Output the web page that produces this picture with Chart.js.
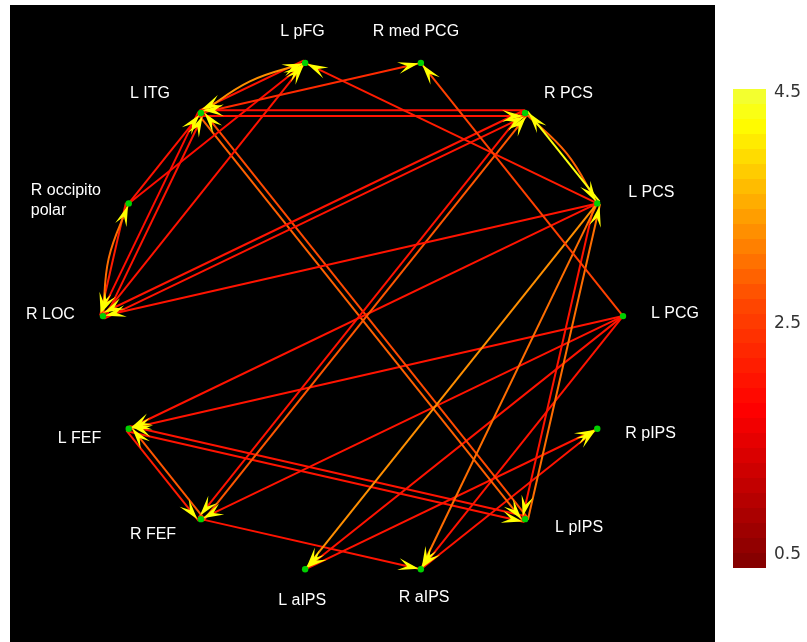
<!DOCTYPE html>
<html>
<head>
<meta charset="utf-8">
<script src="https://cdn.jsdelivr.net/npm/chart.js@4.4.1/dist/chart.umd.min.js"></script>
<style>
  html, body { margin: 0; padding: 0; background: #fff; width: 807px; height: 642px; overflow: hidden; }
  #net { position: absolute; left: 10px; top: 5px; width: 705px; height: 637px; background: #000; }
  #bar { position: absolute; left: 725px; top: 79px; width: 82px; height: 500px; }
</style>
</head>
<body>
<div id="net"><canvas id="netCanvas"></canvas></div>
<div id="bar"><canvas id="barCanvas"></canvas></div>
<script>
// Regions, placed clockwise round the circle starting at the right-hand side
const regions = ['L PCG', 'R pIPS', 'L pIPS', 'R aIPS', 'L aIPS', 'R FEF', 'L FEF',
                 'R LOC', 'R occipito polar', 'L ITG', 'L pFG', 'R med PCG', 'R PCS', 'L PCS'];

// Directed connections: source -> target with connection strength
const edgeFrom = [
  'L ITG', 'L pFG', 'L ITG', 'L PCG', 'L PCS', 'R LOC', 'R occipito polar',
  'L ITG', 'R PCS', 'R LOC', 'L ITG', 'R occipito polar', 'R LOC', 'R occipito polar',
  'R LOC', 'R PCS', 'L PCS', 'L PCS', 'R PCS', 'R PCS', 'R FEF',
  'L PCS', 'L PCS', 'L PCS', 'L PCS', 'L pIPS', 'L ITG', 'L pIPS',
  'L FEF', 'R FEF', 'L FEF', 'L pIPS', 'L PCG', 'L PCG', 'L PCG',
  'L PCG', 'R FEF', 'L aIPS', 'R aIPS'
];
const edgeTo = [
  'L pFG', 'L ITG', 'R med PCG', 'R med PCG', 'L pFG', 'L pFG', 'L pFG',
  'R PCS', 'L ITG', 'L ITG', 'R LOC', 'L ITG', 'R occipito polar', 'R LOC',
  'R PCS', 'R LOC', 'R LOC', 'R PCS', 'L PCS', 'R FEF', 'R PCS',
  'L FEF', 'L aIPS', 'R aIPS', 'L pIPS', 'L PCS', 'L pIPS', 'L ITG',
  'R FEF', 'L FEF', 'L pIPS', 'L FEF', 'L FEF', 'R FEF', 'L aIPS',
  'R aIPS', 'R aIPS', 'R pIPS', 'R pIPS'
];
const edgeWeight = [
  3.3, 2.0, 2.3, 2.6, 2.1, 2.0, 1.9,
  2.0, 1.9, 2.0, 1.9, 2.0, 3.0, 2.1,
  2.0, 2.0, 2.0, 4.3, 2.9, 2.0, 2.8,
  2.0, 3.3, 3.0, 2.0, 3.0, 2.9, 2.7,
  2.1, 2.8, 2.0, 2.0, 2.0, 2.0, 2.0,
  2.0, 2.0, 2.0, 2.0
];

// Colour scale
const colorRange = [0.38, 4.53];
const colorbarTicks = [0.5, 2.5, 4.5];

// ---- drawing style ----
const curvedEdges = new Set(['L ITG>L pFG', 'R LOC>R occipito polar', 'R PCS>L PCS']);
const labelAt = {            // text left edge / vertical middle, px from the node
  'L PCG': [28, -3], 'R pIPS': [28, 5], 'L pIPS': [30, 8], 'R aIPS': [-22, 28],
  'L aIPS': [-27, 31], 'R FEF': [-71, 15], 'L FEF': [-71, 10], 'R LOC': [-77, -2],
  'R occipito polar': [-98, -13], 'L ITG': [-71, -19], 'L pFG': [-25, -31],
  'R med PCG': [-48, -31], 'R PCS': [19, -19], 'L PCS': [31, -11]
};
const labelLines = { 'R occipito polar': ['R occipito', 'polar'] };

const colorStops = [
  [0.00, [128, 0, 0]], [0.33, [255, 0, 0]], [0.55, [255, 70, 0]],
  [0.75, [255, 165, 0]], [0.93, [255, 255, 0]], [1.00, [240, 255, 60]]
];
function colorFor(v) {
  let f = (v - colorRange[0]) / (colorRange[1] - colorRange[0]);
  f = Math.max(0, Math.min(1, f));
  for (let i = 1; i < colorStops.length; i++) {
    const [f1, c1] = colorStops[i];
    const [f0, c0] = colorStops[i - 1];
    if (f <= f1) {
      const t = (f - f0) / (f1 - f0);
      const c = c0.map((a, k) => Math.round(a + (c1[k] - a) * t));
      return `rgb(${c[0]},${c[1]},${c[2]})`;
    }
  }
  return 'rgb(240,255,60)';
}

// node positions on the unit circle (y axis points up)
const step = 2 * Math.PI / regions.length;
const nodePos = {};
regions.forEach((r, i) => { nodePos[r] = { x: Math.cos(i * step), y: -Math.sin(i * step) }; });

const pairKeys = new Set(edgeFrom.map((s, i) => s + '>' + edgeTo[i]));
const edgeDatasets = edgeFrom.map((src, i) => {
  const tgt = edgeTo[i];
  const a = nodePos[src], b = nodePos[tgt];
  const key = src + '>' + tgt;
  let pts;
  if (curvedEdges.has(key)) {
    const mx = (a.x + b.x) / 2, my = (a.y + b.y) / 2;
    const m = Math.hypot(mx, my);
    const bulge = 0.028;
    pts = [{ x: a.x, y: a.y }, { x: mx + mx / m * bulge, y: my + my / m * bulge }, { x: b.x, y: b.y }];
  } else {
    let ox = 0, oy = 0;
    if (pairKeys.has(tgt + '>' + src)) {
      const dx = b.x - a.x, dy = b.y - a.y, d = Math.hypot(dx, dy);
      ox = dy / d * 0.011; oy = -dx / d * 0.011;
    }
    pts = [{ x: a.x + ox, y: a.y + oy }, { x: b.x + ox, y: b.y + oy }];
  }
  return {
    data: pts, showLine: true, pointRadius: 0, pointHoverRadius: 0,
    borderColor: colorFor(edgeWeight[i]), borderWidth: 2,
    tension: curvedEdges.has(key) ? 0.4 : 0, order: 1
  };
});

const nodeDataset = {
  data: regions.map(r => nodePos[r]), pointRadius: 3.2, pointBackgroundColor: '#00d000',
  pointBorderWidth: 0, showLine: false, order: 0
};

function drawArrow(ctx, tx, ty, ux, uy) {
  const L = 21, W = 6, N = 12, gap = 2;
  const x0 = tx - ux * gap, y0 = ty - uy * gap;
  const bx = x0 - ux * L, by = y0 - uy * L;
  const px = -uy, py = ux;
  ctx.beginPath();
  ctx.moveTo(x0, y0);
  ctx.lineTo(bx + px * W, by + py * W);
  ctx.lineTo(x0 - ux * N, y0 - uy * N);
  ctx.lineTo(bx - px * W, by - py * W);
  ctx.closePath();
  ctx.fill();
}

const arrowPlugin = {
  id: 'arrowheads',
  beforeDatasetDraw(chart, args) {
    if (args.index !== edgeDatasets.length) return;
    const ctx = chart.ctx, xs = chart.scales.x, ys = chart.scales.y;
    ctx.save();
    ctx.fillStyle = '#ffff00';
    edgeDatasets.forEach(ds => {
      const n = ds.data.length;
      const p = ds.data[n - 1], q = ds.data[n - 2];
      const tx = xs.getPixelForValue(p.x), ty = ys.getPixelForValue(p.y);
      const sx = xs.getPixelForValue(q.x), sy = ys.getPixelForValue(q.y);
      const d = Math.hypot(tx - sx, ty - sy);
      drawArrow(ctx, tx, ty, (tx - sx) / d, (ty - sy) / d);
    });
    ctx.restore();
  }
};

const labelPlugin = {
  id: 'regionLabels',
  afterDatasetsDraw(chart) {
    const ctx = chart.ctx, xs = chart.scales.x, ys = chart.scales.y;
    ctx.save();
    ctx.fillStyle = '#ffffff';
    ctx.font = '16px "Liberation Sans", Arial, sans-serif';
    ctx.textAlign = 'left';
    ctx.textBaseline = 'middle';
    regions.forEach(r => {
      const px = xs.getPixelForValue(nodePos[r].x), py = ys.getPixelForValue(nodePos[r].y);
      const [dx, dy] = labelAt[r];
      const lines = labelLines[r] || [r];
      lines.forEach((t, k) => ctx.fillText(t, px + dx, py + dy + k * 20));
    });
    ctx.restore();
  }
};

// circle centre sits at (353, 311) px of the 705 x 637 panel, radius 263 px
const R = 263;
new Chart(document.getElementById('netCanvas'), {
  type: 'scatter',
  data: { datasets: [...edgeDatasets, nodeDataset] },
  options: {
    animation: false, responsive: true, maintainAspectRatio: false,
    layout: { padding: 0 },
    plugins: { legend: { display: false }, tooltip: { enabled: false } },
    events: [],
    scales: {
      x: { type: 'linear', display: false, min: -353 / R, max: 352 / R },
      y: { type: 'linear', display: false, min: -326 / R, max: 311 / R }
    }
  },
  plugins: [arrowPlugin, labelPlugin]
});

// colour bar
const nBands = 32;
new Chart(document.getElementById('barCanvas'), {
  type: 'bar',
  data: {
    labels: [''],
    datasets: [{
      data: [[colorRange[0], colorRange[1]]],
      barPercentage: 1, categoryPercentage: 1, borderWidth: 0,
      backgroundColor(context) {
        const area = context.chart.chartArea;
        if (!area) return '#ff0000';
        const g = context.chart.ctx.createLinearGradient(0, area.bottom, 0, area.top);
        for (let i = 0; i < nBands; i++) {
          const v = colorRange[0] + (i + 0.5) / nBands * (colorRange[1] - colorRange[0]);
          const c = colorFor(v);
          g.addColorStop(i / nBands, c);
          g.addColorStop((i + 1) / nBands, c);
        }
        return g;
      }
    }]
  },
  options: {
    animation: false, responsive: true, maintainAspectRatio: false,
    layout: { padding: { top: 10, bottom: 11, left: 8, right: 0 } },
    plugins: { legend: { display: false }, tooltip: { enabled: false } },
    events: [],
    scales: {
      x: { display: false },
      y: {
        position: 'right', min: colorRange[0], max: colorRange[1],
        afterBuildTicks(axis) { axis.ticks = colorbarTicks.map(v => ({ value: v })); },
        afterFit(axis) { axis.width = 41; axis.paddingTop = 0; axis.paddingBottom = 0; },
        grid: { display: false, drawTicks: false },
        border: { display: false },
        ticks: { color: '#333', padding: 8, font: { family: 'DejaVu Sans', size: 17 },
                 callback: v => v.toFixed(1) }
      }
    }
  }
});
</script>
</body>
</html>
